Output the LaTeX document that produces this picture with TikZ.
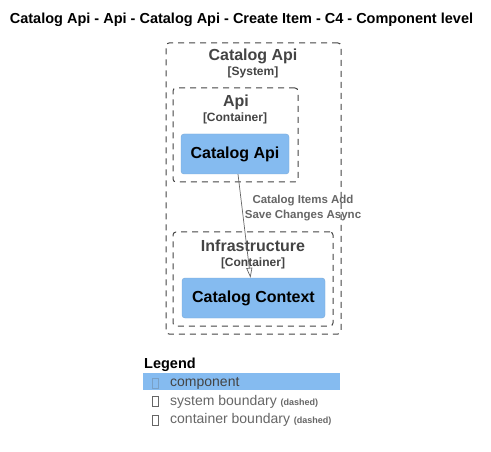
\documentclass[tikz,border=0pt]{standalone}
\usepackage{fontspec}
\setmainfont{Liberation Sans}
\usetikzlibrary{arrows.meta,calc,positioning}
\definecolor{compazul}{HTML}{85BBF0}
\definecolor{compborde}{HTML}{78A8D8}
\definecolor{grisoscuro}{HTML}{444444}
\definecolor{grismedio}{HTML}{666666}
\tikzset{
  limite/.style={
    rounded corners=3pt,
    draw=grisoscuro,
    line width=1pt,
    dash pattern=on 6pt off 5pt,
    inner sep=0pt
  },
  componente/.style={
    rounded corners=3pt,
    draw=compborde,
    fill=compazul,
    align=center,
    inner sep=0pt,
    font=\bfseries\fontsize{16}{18}\selectfont
  },
  nombre/.style={
    text=grisoscuro,
    inner sep=0pt,
    font=\bfseries\fontsize{16}{18}\selectfont
  },
  tipo/.style={
    text=grisoscuro,
    inner sep=0pt,
    font=\bfseries\fontsize{12}{14}\selectfont
  },
  leyenda/.style={
    anchor=west,
    inner sep=0pt,
    text=grismedio,
    font=\fontsize{14}{16}\selectfont
  },
  tofu/.style={
    draw=grismedio,
    line width=0.6pt,
    minimum width=6pt,
    minimum height=10pt,
    inner sep=0pt
  },
  arrow/.style={
    -{Triangle[open,length=10pt,width=6pt]},
    line width=0.7pt,
    grismedio
  }
}
\newcommand{\chico}[1]{{\bfseries\fontsize{9}{10}\selectfont #1}}
\begin{document}
\begin{tikzpicture}[x=1pt,y=-1pt]
\useasboundingbox[fill=white] (0,0) rectangle (491,452);
\node[font=\bfseries\fontsize{14.5}{16}\selectfont, inner sep=0pt] (titulo) at (241.5,20)
  {Catalog Api - Api - Catalog Api - Create Item - C4 - Component level};

% limites
\node[limite, minimum width=175pt, minimum height=291pt] (sis) at (253.5,188.5) {};
\node[nombre] (sisn) at (253,56) {Catalog Api};
\node[tipo] (sist) at (253,72) {[System]};

\node[limite, minimum width=125pt, minimum height=94pt] (api) at (235.5,135) {};
\node[nombre] (apin) at (236,102) {Api};
\node[tipo] (apit) at (235,118) {[Container]};

\node[limite, minimum width=160pt, minimum height=94pt] (infra) at (253,279) {};
\node[nombre] (infran) at (253,246) {Infrastructure};
\node[tipo] (infrat) at (253,263) {[Container]};

% componentes
\node[componente, minimum width=108pt, minimum height=40pt] (capi) at (235,154) {Catalog Api};
\node[componente, minimum width=143pt, minimum height=40pt] (ctx) at (253.5,298) {Catalog Context};

\draw[arrow] ($(capi.south)+(3,0)$) -- ($(ctx.north)+(-3,0)$);
\node[text=grismedio, align=center, inner sep=0pt, font=\bfseries\fontsize{11.5}{15}\selectfont]
  (rel) at (303,208.5) {Catalog Items Add\\Save Changes Async};

% leyenda
\node[anchor=west, inner sep=0pt, font=\bfseries\fontsize{14.5}{16}\selectfont] (ley) at (144,365) {Legend};
\fill[compazul] (143,373) rectangle (340,390);
\node[tofu, draw=compborde!80!gray] (t1) at (155,383) {};
\node[leyenda, text=grisoscuro] (l1) at (170,383.5) {component};
\node[tofu] (t2) at (155,401.5) {};
\node[leyenda] (l2) at (170,401.5) {system boundary \chico{(dashed)}};
\node[tofu] (t3) at (155,420.5) {};
\node[leyenda] (l3) at (170,420) {container boundary \chico{(dashed)}};
\end{tikzpicture}
\end{document}
